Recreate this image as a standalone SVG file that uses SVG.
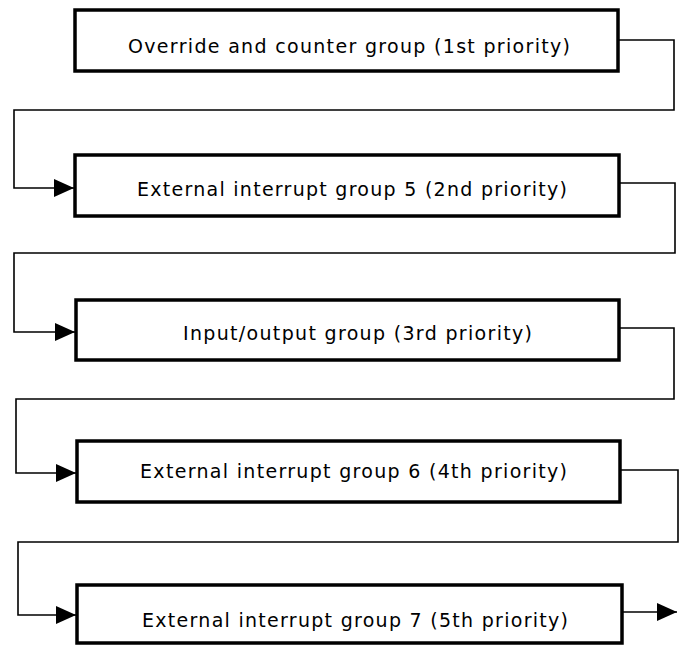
<svg xmlns="http://www.w3.org/2000/svg" width="681" height="645" viewBox="0 0 681 645">
<style>
.box{fill:#fff;stroke:#000;stroke-width:3.5}
.lbl{font-family:"DejaVu Sans","Liberation Sans",sans-serif;font-size:19px;fill:#000}
.con{fill:none;stroke:#000;stroke-width:1.6}
</style>
<defs>
<marker id="arr" markerUnits="userSpaceOnUse" markerWidth="22" markerHeight="20" refX="20" refY="9" orient="auto">
<path d="M0,0 L20,9 L0,18 z" fill="#000"/>
</marker>
</defs>
<rect width="681" height="645" fill="#fff"/>
<g id="connectors">
<path class="con" d="M618,40 H674 V110 H14 V188 H74" marker-end="url(#arr)"/>
<path class="con" d="M619,183 H675 V253 H14 V332 H75" marker-end="url(#arr)"/>
<path class="con" d="M619,328 H674 V399 H16 V473 H76" marker-end="url(#arr)"/>
<path class="con" d="M620,470 H678 V542 H18 V615 H76" marker-end="url(#arr)"/>
<path class="con" d="M622,612 H677" marker-end="url(#arr)"/>
</g>
<g id="node1">
<rect class="box" x="75" y="10" width="543" height="61"/>
<text class="lbl" x="128" y="53" textLength="442" lengthAdjust="spacing">Override and counter group (1st priority)</text>
</g>
<g id="node2">
<rect class="box" x="75" y="155" width="544" height="61"/>
<text class="lbl" x="137" y="196" textLength="430" lengthAdjust="spacing">External interrupt group 5 (2nd priority)</text>
</g>
<g id="node3">
<rect class="box" x="76" y="300" width="543" height="60"/>
<text class="lbl" x="183" y="340" textLength="349" lengthAdjust="spacing">Input/output group (3rd priority)</text>
</g>
<g id="node4">
<rect class="box" x="77" y="441" width="543" height="61"/>
<text class="lbl" x="140" y="478" textLength="427" lengthAdjust="spacing">External interrupt group 6 (4th priority)</text>
</g>
<g id="node5">
<rect class="box" x="77" y="585" width="545" height="58"/>
<text class="lbl" x="142" y="627" textLength="426" lengthAdjust="spacing">External interrupt group 7 (5th priority)</text>
</g>
</svg>
